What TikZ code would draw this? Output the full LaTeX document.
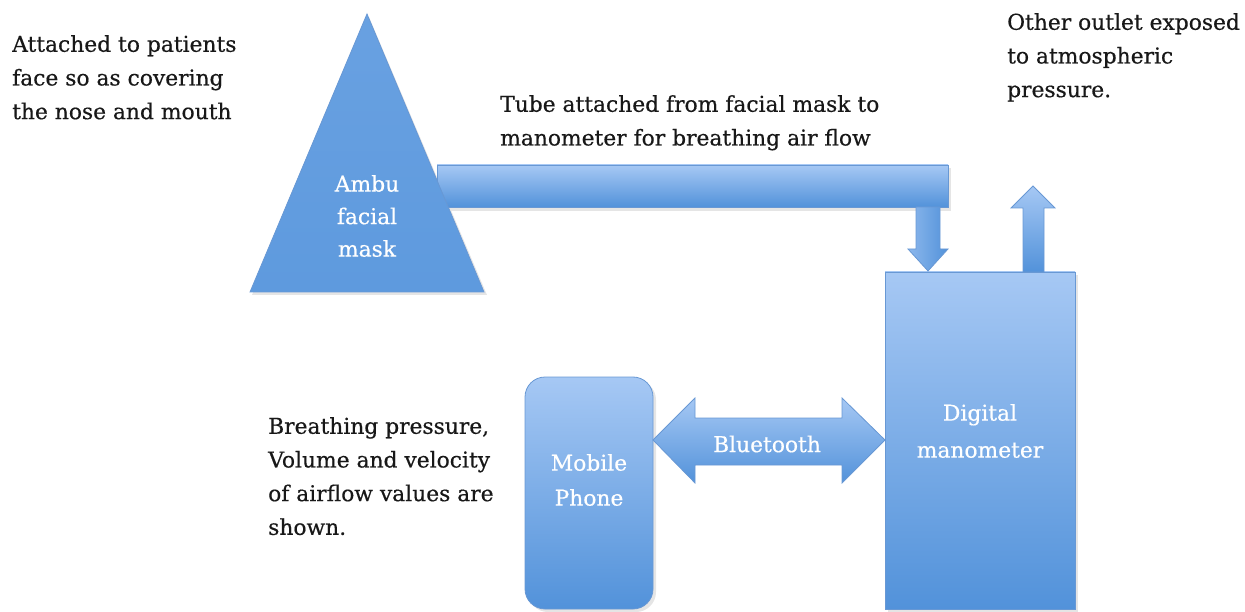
\documentclass[tikz,border=0pt]{standalone}
\usepackage{fontspec}
\setmainfont{DejaVu Serif}[FakeBold=0.5]
\definecolor{bluetop}{RGB}{166,200,244}
\definecolor{bluebot}{RGB}{82,146,218}
\definecolor{bluemid}{RGB}{94,154,222}
\definecolor{blueedge}{RGB}{104,152,212}
\definecolor{txt}{RGB}{24,24,24}
\begin{document}
\begin{tikzpicture}[x=1pt,y=-1pt,
  part/.style={draw=blueedge,line width=0.8pt,top color=bluetop,bottom color=bluebot},
  hpart/.style={draw=blueedge,line width=0.8pt,left color=bluetop!70!bluebot,right color=bluebot},
  shadowfill/.style={fill=black!10},
  note/.style={align=left,anchor=north west,inner sep=0pt,text=txt,font=\fontsize{21.8}{33.7}\selectfont},
  inlabel/.style={align=center,inner sep=0pt,text=white,font=\fontsize{21.8}{34}\selectfont}]
\useasboundingbox (0,0) rectangle (1245,612);
% facial mask
\coordinate (apex) at (367,14);
\coordinate (bl) at (250,292);
\coordinate (br) at (484,292);
\fill[shadowfill] (252,295) -- (369,17) -- (487,295) -- cycle;
% tube
\fill[shadowfill] (437,168) rectangle (951,211);
\draw[part] (437,165) rectangle (948,207);
\path[draw=blueedge,line width=0.8pt,top color=bluemid!85!bluetop,bottom color=bluemid] (apex) -- (br) -- (bl) -- cycle;
\node[inlabel,font=\fontsize{21.8}{32.5}\selectfont] (mask) at (367,216) {Ambu\\facial\\mask};
% manometer
\fill[shadowfill] (888,275) rectangle (1078,612);
\draw[part] (885,272) rectangle (1075,609);
\node[inlabel,font=\fontsize{21.8}{37}\selectfont] (mano) at (980,431) {Digital\\manometer};
\coordinate (manoL) at (885,440);
% down arrow
\draw[hpart]
  (916,207) -- (940,207) -- (940,249) -- (948,249) -- (928,271) -- (908,249) -- (916,249) -- cycle;
% up arrow
\draw[part] (1023,272) -- (1023,208) -- (1011,208) -- (1033,186) -- (1055,208) -- (1044,208) -- (1044,272) -- cycle;
% mobile phone
\fill[shadowfill,rounded corners=20pt] (528,380) rectangle (656,612);
\draw[part,rounded corners=20pt] (525,377) rectangle (653,609);
\node[inlabel,font=\fontsize{21.8}{35}\selectfont] (phone) at (589,480) {Mobile\\Phone};
\coordinate (phoneR) at (653,440);
% bluetooth double arrow
\draw[part]
  (phoneR) -- (695,398) -- (695,418) -- (842,418) -- (842,398) -- (manoL)
  -- (842,483) -- (842,465) -- (695,465) -- (695,483) -- cycle;
\node[inlabel] (bt) at (767,444) {Bluetooth};
% notes
\node[note] (n1) at (12,35) {Attached to patients\\face so as covering\\the nose and mouth};
\node[note] (n2) at (500,95) {Tube attached from facial mask to\\manometer for breathing air flow};
\node[note] (n3) at (1007,13) {Other outlet exposed\\to atmospheric\\pressure.};
\node[note] (n4) at (268,417) {Breathing pressure,\\Volume and velocity\\of airflow values are\\shown.};
\end{tikzpicture}
\end{document}
